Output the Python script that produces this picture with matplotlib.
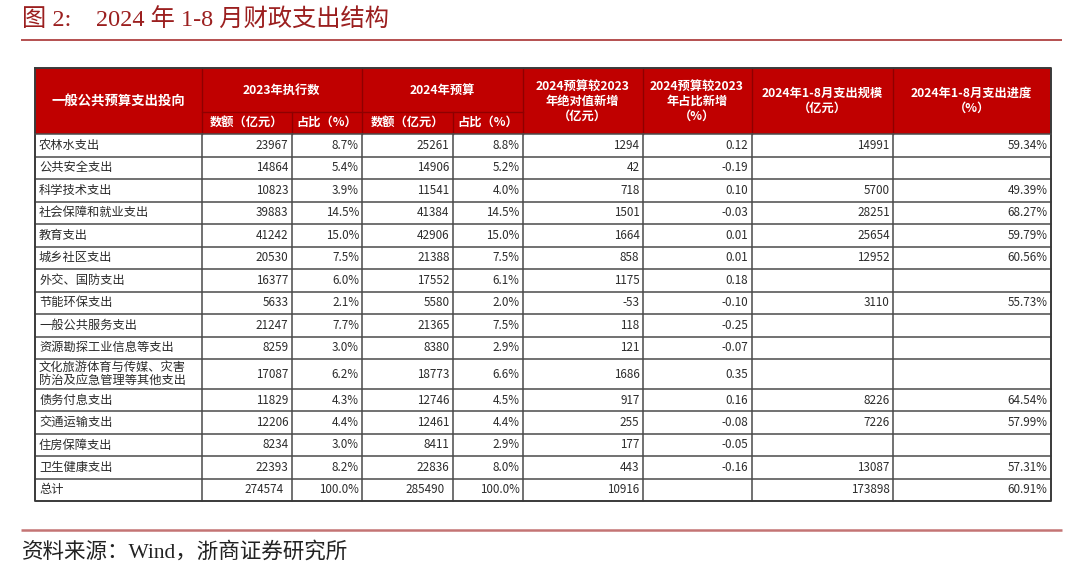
import matplotlib
matplotlib.use("Agg")
import matplotlib.pyplot as plt
from matplotlib.patches import Rectangle

# ---------------- data ----------------
categories = ["农林水支出", "公共安全支出", "科学技术支出", "社会保障和就业支出", "教育支出",
              "城乡社区支出", "外交、国防支出", "节能环保支出", "一般公共服务支出",
              "资源勘探工业信息等支出", "文化旅游体育与传媒、灾害\n防治及应急管理等其他支出",
              "债务付息支出", "交通运输支出", "住房保障支出", "卫生健康支出"]
exec_2023 = [23967, 14864, 10823, 39883, 41242, 20530, 16377, 5633, 21247, 8259, 17087,
             11829, 12206, 8234, 22393]
share_2023 = [8.7, 5.4, 3.9, 14.5, 15.0, 7.5, 6.0, 2.1, 7.7, 3.0, 6.2, 4.3, 4.4, 3.0, 8.2]
budget_2024 = [25261, 14906, 11541, 41384, 42906, 21388, 17552, 5580, 21365, 8380, 18773,
               12746, 12461, 8411, 22836]
share_2024 = [8.8, 5.2, 4.0, 14.5, 15.0, 7.5, 6.1, 2.0, 7.5, 2.9, 6.6, 4.5, 4.4, 2.9, 8.0]
abs_increase = [1294, 42, 718, 1501, 1664, 858, 1175, -53, 118, 121, 1686, 917, 255, 177, 443]
share_change = [0.12, -0.19, 0.10, -0.03, 0.01, 0.01, 0.18, -0.10, -0.25, -0.07, 0.35,
                0.16, -0.08, -0.05, -0.16]
ytd_spend = [14991, None, 5700, 28251, 25654, 12952, None, 3110, None, None, None,
             8226, 7226, None, 13087]
ytd_progress = [59.34, None, 49.39, 68.27, 59.79, 60.56, None, 55.73, None, None, None,
                64.54, 57.99, None, 57.31]
total_label = "总计"
total_values = [274574, 100.0, 285490, 100.0, 10916, None, 173898, 60.91]

header_first = "一般公共预算支出投向"
header_groups = ["2023年执行数", "2024年预算"]
header_sub = ["数额（亿元）", "占比（%）", "数额（亿元）", "占比（%）"]
header_tall = ["2024预算较2023\n年绝对值新增\n（亿元）", "2024预算较2023\n年占比新增\n（%）",
               "2024年1-8月支出规模\n（亿元）", "2024年1-8月支出进度\n（%）"]

title = "图 2:    2024 年 1-8 月财政支出结构"
source = "资料来源：Wind，浙商证券研究所"

# ---------------- layout (pixels) ----------------
W, H = 1080, 581
col_x = [35, 201.5, 291.5, 362, 452.5, 522.5, 642.5, 751.5, 892.7, 1050.5]
head_top, head_mid, head_bot = 68, 112, 134
row_h = [22.5] * 10 + [30] + [22.4] * 5

RED = "#C00000"
GRID = "#4a4a4a"
TXT = "#2b2b2b"
CJK = ["Noto Sans CJK SC", "DejaVu Sans"]
SERIF = ["Liberation Serif", "Noto Sans CJK SC"]

fig = plt.figure(figsize=(W / 100, H / 100), dpi=100)
ax = fig.add_axes([0, 0, 1, 1])
ax.set_xlim(0, W)
ax.set_ylim(H, 0)
ax.axis("off")

# title + rules
ax.text(22, 20, title, fontsize=17.5, color="#9B1F1F", family=SERIF, va="center", ha="left")
ax.plot([21, 1062], [40, 40], color="#A83232", lw=1.2, solid_capstyle="butt")
ax.plot([21, 1062], [529.5, 529.5], color="#C47474", lw=1.8, solid_capstyle="butt")
ax.text(22, 552, source, fontsize=15.5, color="#222222", family=SERIF, va="center", ha="left")

# header background
ax.add_patch(Rectangle((col_x[0], head_top), col_x[-1] - col_x[0], head_bot - head_top,
                       facecolor=RED, edgecolor="none", zorder=1))
hdr_line = "#8E0000"
for x in col_x[1:-1]:
    if x in (col_x[2], col_x[4]):
        ax.plot([x, x], [head_mid, head_bot], color=hdr_line, lw=1.0, zorder=2)
    else:
        ax.plot([x, x], [head_top, head_bot], color=hdr_line, lw=1.0, zorder=2)
ax.plot([col_x[1], col_x[5]], [head_mid, head_mid], color=hdr_line, lw=1.0, zorder=2)

hkw = dict(color="white", family=CJK, fontweight="bold", fontsize=8.8, va="center",
           ha="center", zorder=3, linespacing=1.2)
ax.text((col_x[0] + col_x[1]) / 2, (head_top + head_bot) / 2, header_first,
        **{**hkw, "fontsize": 9.6})
for i, g in enumerate(header_groups):
    x0, x1 = col_x[1 + 2 * i], col_x[3 + 2 * i]
    ax.text((x0 + x1) / 2, (head_top + head_mid) / 2, g, **hkw)
for i, s in enumerate(header_sub):
    ax.text((col_x[1 + i] + col_x[2 + i]) / 2, (head_mid + head_bot) / 2 - 1, s, **hkw)
for i, s in enumerate(header_tall):
    ax.text((col_x[5 + i] + col_x[6 + i]) / 2, (head_top + head_bot) / 2, s, **hkw)

# body rows
def fmt_pct1(v):
    return f"{v:.1f}%"

rows = []
for i in range(len(categories)):
    rows.append([categories[i], str(exec_2023[i]), fmt_pct1(share_2023[i]),
                 str(budget_2024[i]), fmt_pct1(share_2024[i]), str(abs_increase[i]),
                 f"{share_change[i]:.2f}",
                 "" if ytd_spend[i] is None else str(ytd_spend[i]),
                 "" if ytd_progress[i] is None else f"{ytd_progress[i]:.2f}%"])
tv = total_values
rows.append([total_label, str(tv[0]), fmt_pct1(tv[1]), str(tv[2]), fmt_pct1(tv[3]),
             str(tv[4]), "", str(tv[6]), f"{tv[7]:.2f}%"])

y = head_bot
ys = [y]
for k, h in enumerate(row_h):
    yc = y + h / 2
    for c, val in enumerate(rows[k]):
        if c == 0:
            ax.text(col_x[0] + 4, yc, val, fontsize=8.8, color=TXT, family=CJK,
                    va="center", ha="left", linespacing=1.0)
        else:
            pad = 3
            if k == len(row_h) - 1 and c in (1, 3):
                pad = 8
            ax.text(col_x[c + 1] - pad, yc, val, fontsize=8.4, color=TXT, family=CJK,
                    va="center", ha="right")
    y += h
    ys.append(y)

# grid
for yy in ys[1:-1]:
    ax.plot([col_x[0], col_x[-1]], [yy, yy], color=GRID, lw=1.1, zorder=2)
for x in col_x[1:-1]:
    ax.plot([x, x], [head_bot, ys[-1]], color=GRID, lw=1.1, zorder=2)
ax.plot([col_x[0], col_x[0], col_x[-1], col_x[-1], col_x[0]],
        [head_top, ys[-1], ys[-1], head_top, head_top], color="#3a3a3a", lw=1.4, zorder=2)
ax.plot([col_x[0], col_x[-1]], [head_bot, head_bot], color=GRID, lw=1.1, zorder=2)

fig.savefig("out.png", dpi=100)
